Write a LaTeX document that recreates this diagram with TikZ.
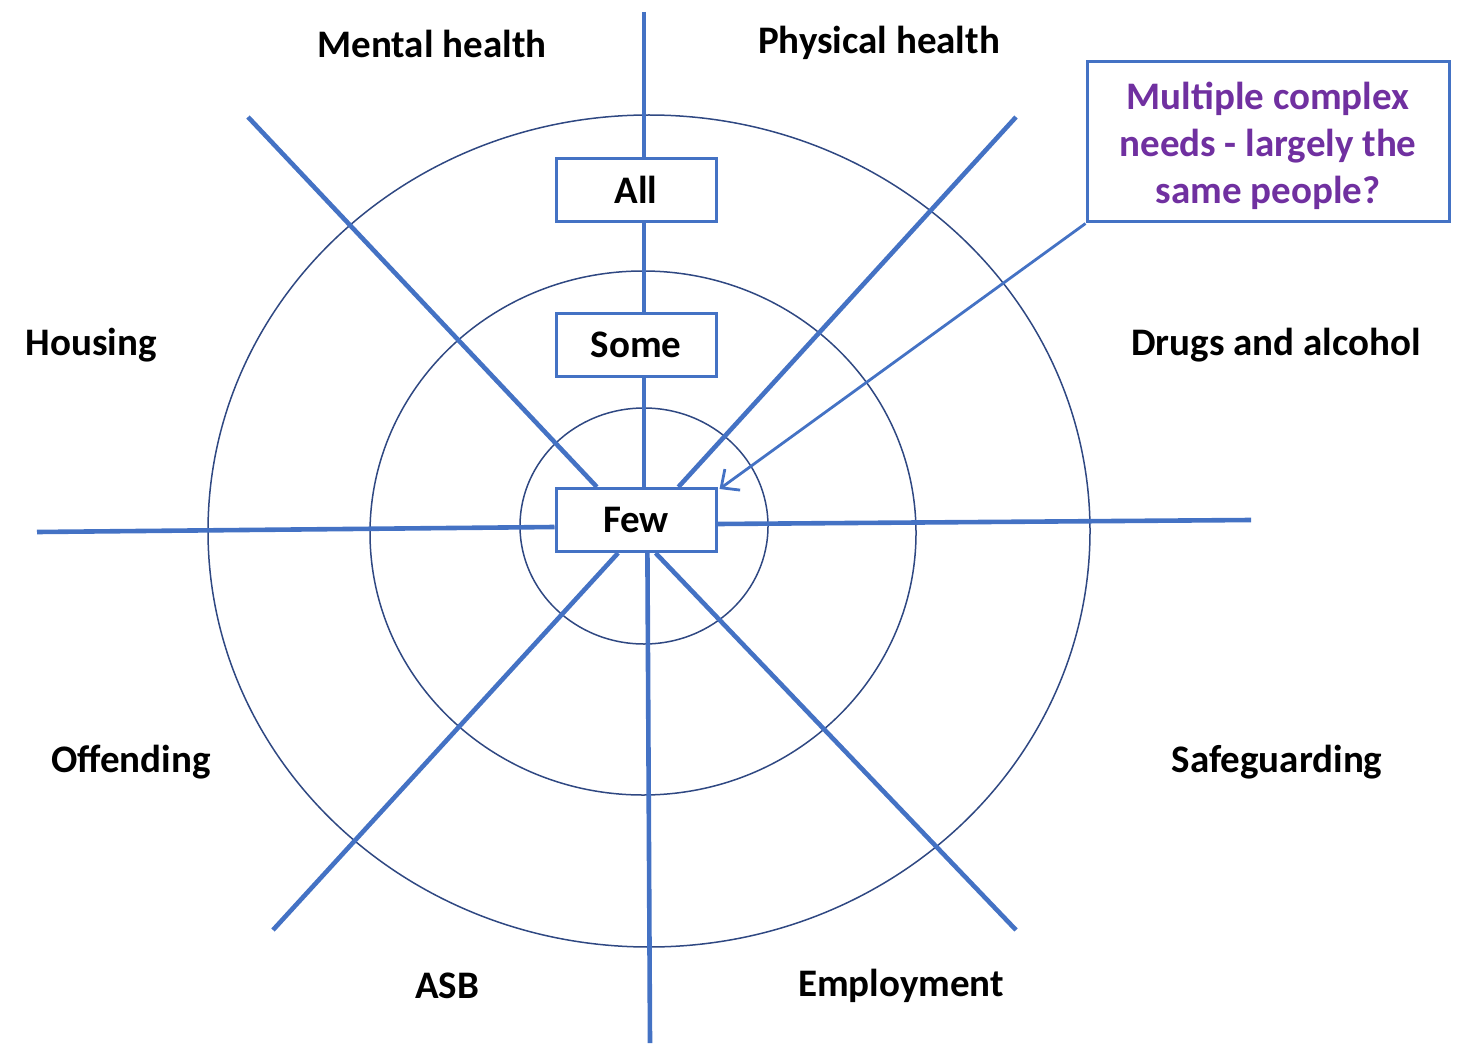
\documentclass[tikz,border=0pt]{standalone}
\usepackage{fontspec}
\setmainfont{Carlito}
\usepackage{tikz}
\usetikzlibrary{positioning, arrows.meta, calc}

\definecolor{spokeblue}{RGB}{68,114,196}
\definecolor{ringblue}{RGB}{47,72,130}
\definecolor{needpurple}{RGB}{112,48,160}

\begin{document}
\begin{tikzpicture}[x=0.5pt, y=-0.5pt,
  spoke/.style={spokeblue, line width=2.3pt},
  ring/.style={ringblue, line width=0.75pt},
  level/.style={draw=spokeblue, line width=1.5pt, fill=white,
    minimum width=80pt, minimum height=31.5pt, inner sep=0pt,
    font=\fontsize{19.5}{22}\selectfont\bfseries},
  area/.style={font=\fontsize{19.5}{22}\selectfont\bfseries, inner sep=0pt},
  callout/.style={draw=spokeblue, line width=1.5pt,
    minimum width=181pt, minimum height=80pt, inner sep=0pt},
  callouttext/.style={text=needpurple, align=center, inner sep=0pt,
    font=\fontsize{19.5}{23.5}\selectfont\bfseries}]

\useasboundingbox (0,0) rectangle (1459,1053);

% --- Rings ---
\draw[ring] (649,531) ellipse [x radius=220.5pt, y radius=208pt];
\draw[ring] (643,533) ellipse [x radius=136.5pt, y radius=131pt];
\draw[ring] (644,526) ellipse [x radius=62pt, y radius=59pt];

% --- Level boxes ---
\node[level] (all)  at (636,190) {All};
\node[level] (some) at (636,345) {Some};
\node[level] (few)  at (636,520) {Few};

% --- Outer ends of the spokes ---
\coordinate (ntop) at (644,12);
\coordinate (nbot) at (650,1043);
\coordinate (ntl)  at (248,117);
\coordinate (ntr)  at (1016,117);
\coordinate (nl)   at (37,532);
\coordinate (nr)   at (1251,520);
\coordinate (nbl)  at (273,930);
\coordinate (nbr)  at (1016,930);

% --- Spokes ---
\draw[spoke] (ntop) -- (ntop |- all.north);
\draw[spoke] (ntop |- all.south) -- (ntop |- some.north);
\draw[spoke] (ntop |- some.south) -- (ntop |- few.north);
\draw[spoke] ($(few.south west)!0.57!(few.south east)$) -- (nbot);
\draw[spoke] (ntl) -- ($(few.north west)!0.26!(few.north east)$);
\draw[spoke] (ntr) -- ($(few.north west)!0.76!(few.north east)$);
\draw[spoke] (nl) -- ([yshift=-3.5pt]few.west);
\draw[spoke] ([yshift=-2pt]few.east) -- (nr);
\draw[spoke] ($(few.south west)!0.39!(few.south east)$) -- (nbl);
\draw[spoke] ($(few.south west)!0.62!(few.south east)$) -- (nbr);

% --- Area labels ---
\node[area] (mental)   at (432,44)  {Mental health};
\node[area] (physical) at (879,43)  {Physical health};
\node[area] (housing)  at (91,345)  {Housing};
\node[area] (drugs)    at (1276,345) {Drugs and alcohol};
\node[area] (offend)   at (131,762) {Offending};
\node[area] (safe)     at (1277,762) {Safeguarding};
\node[area] (asb)      at (447,986) {ASB};
\node[area] (employ)   at (901,986) {Employment};

% --- Callout ---
\node[callout] (needs) at (1268,142) {};
\node[callouttext] (needstext) at (1268,146)
  {Multiple complex\\needs - largely the\\same people?};
\draw[spokeblue, line width=1.4pt, -{Straight Barb[length=7pt, width=13pt]}]
  (needs.south west) -- ([xshift=1pt, yshift=-1pt]few.north east);

\end{tikzpicture}
\end{document}
